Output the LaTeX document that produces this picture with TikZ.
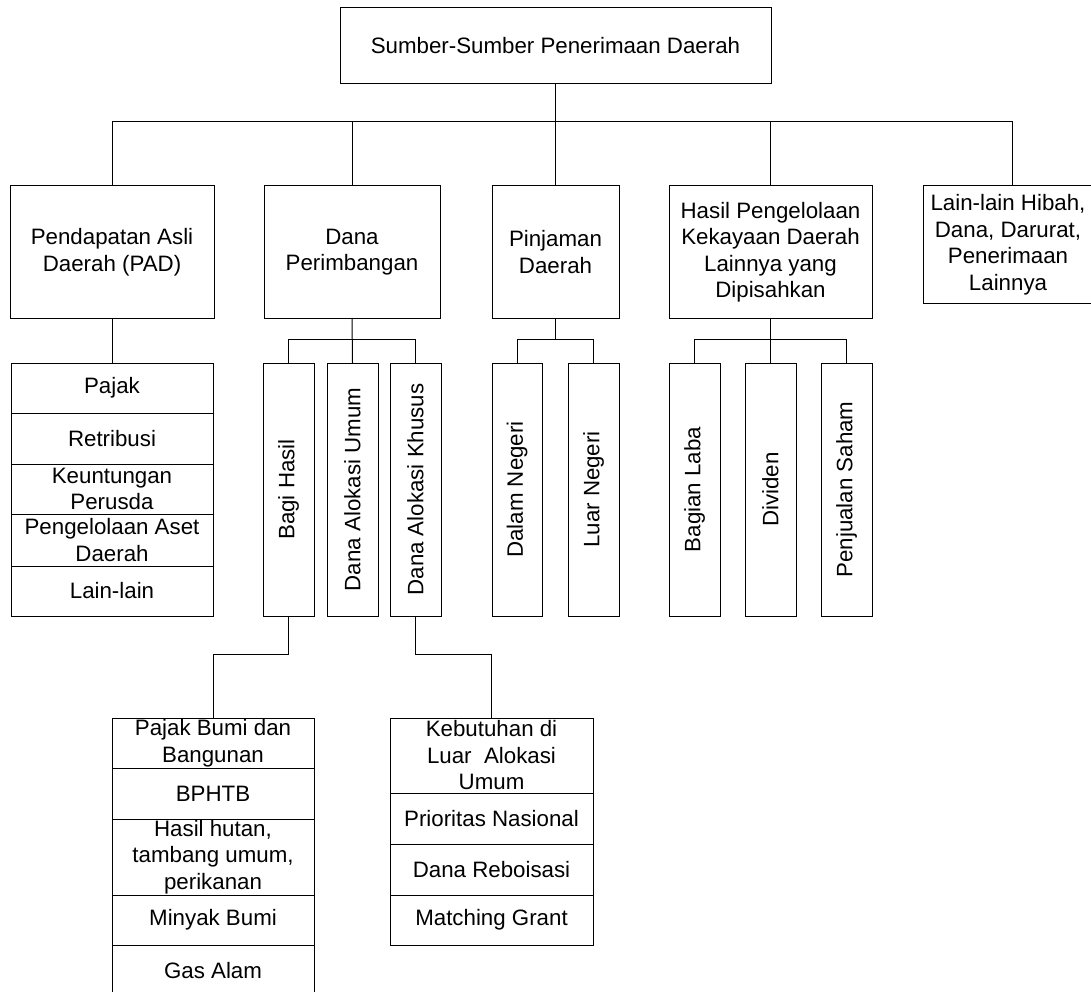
\documentclass[tikz,border=0pt]{standalone}
\usepackage{fontspec}
\setmainfont{Liberation Sans}
\usepackage{graphicx}
\usetikzlibrary{positioning}

\begin{document}
\begin{tikzpicture}[x=1pt,y=-1pt]
\tikzstyle{box} = [draw, line width=1pt, inner sep=0pt, outer sep=0pt, align=center, font=\fontsize{22.3}{26.5}\selectfont]
\tikzstyle{topbox} = [box, minimum height=132pt]
\tikzstyle{item} = [box, minimum width=202pt]
\tikzstyle{tall} = [box, minimum width=51pt, minimum height=253pt]
\tikzstyle{link} = [line width=1pt]
\path[use as bounding box, clip] (0,0) rectangle (1091,992);

% level 0
\node[box, minimum width=431pt, minimum height=76pt] (root) at (555.5,46) {Sumber-Sumber Penerimaan Daerah};

% level 1
\node[topbox, minimum width=204pt] (pad) at (112,252) {Pendapatan Asli\\Daerah (PAD)};
\node[topbox, minimum width=176pt] (dana) at (352,252) {Dana\\Perimbangan};
\node[topbox, minimum width=127pt] (pinjaman) at (555.5,252) {Pinjaman\\Daerah};
\node[topbox, minimum width=203pt] (hasil) at (770.5,252) {Hasil Pengelolaan\\Kekayaan Daerah\\Lainnya yang\\Dipisahkan};
\node[box, minimum width=170pt, minimum height=117pt] (lain) at (1008,244.5) {Lain-lain Hibah,\\Dana, Darurat,\\Penerimaan\\Lainnya};

\coordinate (bus) at (555.5,122);
\draw[link] (root.south) -- (bus);
\foreach \n in {pad,dana,pinjaman,hasil}
	\draw[link] (\n.north) |- (bus);
\draw[link] ([xshift=4pt]lain.north) |- (bus);

% PAD
\node[item, minimum height=50pt, anchor=north] (pajak) at (112,363) {Pajak};
\node[item, minimum height=51pt, below=0pt of pajak] (retribusi) {Retribusi};
\node[item, minimum height=50pt, below=0pt of retribusi] (perusda) {Keuntungan\\Perusda};
\node[item, minimum height=52pt, below=0pt of perusda] (aset) {Pengelolaan Aset\\Daerah};
\node[item, minimum height=50pt, below=0pt of aset] (lainlain) {Lain-lain};
\draw[link] (pad.south) -- (pajak.north);

% dana perimbangan
\node[tall] (baghasil) at (288.5,489.5) {\rotatebox{90}{Bagi Hasil}};
\node[tall] (dau) at (352.5,489.5) {\rotatebox{90}{Dana Alokasi Umum}};
\node[tall] (dak) at (415.5,489.5) {\rotatebox{90}{Dana Alokasi Khusus}};
\coordinate (dbus) at (352.5,339);
\draw[link] (dana.south) -- (dau.north);
\draw[link] (baghasil.north) |- (dbus);
\draw[link] (dak.north) |- (dbus);

% pinjaman
\node[tall, minimum width=50pt] (dalam) at (517,489.5) {\rotatebox{90}{Dalam Negeri}};
\node[tall] (luar) at (593.5,489.5) {\rotatebox{90}{Luar Negeri}};
\coordinate (pbus) at (555.5,339);
\draw[link] (pinjaman.south) -- (pbus);
\draw[link] (dalam.north) |- (pbus);
\draw[link] (luar.north) |- (pbus);

% hasil pengelolaan
\node[tall] (laba) at (694.5,489.5) {\rotatebox{90}{Bagian Laba}};
\node[tall] (dividen) at (770.5,489.5) {\rotatebox{90}{Dividen}};
\node[tall] (saham) at (846.5,489.5) {\rotatebox{90}{Penjualan Saham}};
\coordinate (hbus) at (770.5,339);
\draw[link] (hasil.south) -- (dividen.north);
\draw[link] (laba.north) |- (hbus);
\draw[link] (saham.north) |- (hbus);

% bagi hasil
\node[item, minimum height=50pt, anchor=north] (pbb) at (213,718) {Pajak Bumi dan\\Bangunan};
\node[item, minimum height=51pt, below=0pt of pbb] (bphtb) {BPHTB};
\node[item, minimum height=76pt, below=0pt of bphtb] (hutan) {Hasil hutan,\\tambang umum,\\perikanan};
\node[item, minimum height=50pt, below=0pt of hutan] (minyak) {Minyak Bumi};
\node[item, minimum height=51pt, below=0pt of minyak] (gas) {Gas Alam};
\draw[link] (baghasil.south) -- ++(0,38) -| (pbb.north);

% dana alokasi khusus
\node[item, minimum width=203pt, minimum height=75pt, anchor=north] (kebutuhan) at (491.5,718) {Kebutuhan di\\Luar~ Alokasi\\Umum};
\node[item, minimum width=203pt, minimum height=51pt, below=0pt of kebutuhan] (prioritas) {Prioritas Nasional};
\node[item, minimum width=203pt, minimum height=51pt, below=0pt of prioritas] (reboisasi) {Dana Reboisasi};
\node[item, minimum width=203pt, minimum height=50pt, below=0pt of reboisasi] (matching) {Matching Grant};
\draw[link] (dak.south) -- ++(0,38) -| (kebutuhan.north);
\end{tikzpicture}
\end{document}
